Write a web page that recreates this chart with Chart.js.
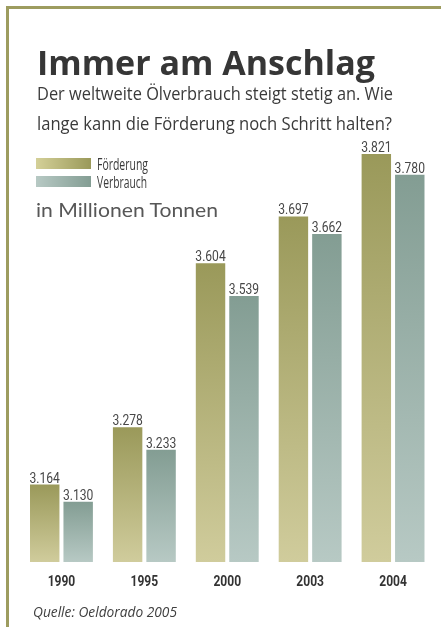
<!DOCTYPE html>
<html>
<head>
<meta charset="utf-8">
<script src="https://cdn.jsdelivr.net/npm/chart.js@4/dist/chart.umd.min.js"></script>
<style>
  html, body { margin: 0; padding: 0; background: #ffffff; }
  #wrap { position: relative; width: 441px; height: 627px; overflow: hidden; background: #fff; }
  #chart { position: absolute; left: 0; top: 0; }
  .frameTop { position: absolute; left: 6px; top: 6px; width: 435px; height: 3px; background: #9d9c5f; }
  .frameLeft { position: absolute; left: 6px; top: 6px; width: 3px; height: 621px; background: #9d9c5f; }
  .t { position: absolute; white-space: nowrap; line-height: 1; transform-origin: 0 0; color: #3b3b3b; }
  #title { left: 37px; top: 38.5px; font: 700 34px "Open Sans", sans-serif; color: #363636; }
  .sub { font: 400 17.5px "Open Sans", sans-serif; color: #3a3a3a; left: 37px; }
  .leg { font: 400 15.5px "Open Sans", sans-serif; color: #3a3a3a; left: 97px; }
  .sw { position: absolute; left: 36px; width: 55px; height: 11px; }
  #unit { left: 36px; top: 198.6px; font: 400 18.5px Lato, sans-serif; color: #575757; }
  #src { left: 33px; top: 600.5px; font: italic 400 15px "Open Sans", sans-serif; color: #3f3f3f; }
</style>
</head>
<body>
<div id="wrap">
  <canvas id="chart" width="441" height="627"></canvas>
  <div class="frameTop"></div>
  <div class="frameLeft"></div>
  <div class="t" id="title" data-w="338">Immer am Anschlag</div>
  <div class="t sub" style="top:81.2px" data-w="356">Der weltweite Ölverbrauch steigt stetig an. Wie</div>
  <div class="t sub" style="top:111.2px" data-w="355">lange kann die Förderung noch Schritt halten?</div>
  <div class="sw" style="top:158px; background: linear-gradient(to right, #d4d098, #9a995a);"></div>
  <div class="sw" style="top:176px; background: linear-gradient(to right, #b7c9c4, #839d93);"></div>
  <div class="t leg" style="top:153.3px" data-w="51">Förderung</div>
  <div class="t leg" style="top:171.3px" data-w="50">Verbrauch</div>
  <div class="t" id="unit" data-w="182">in Millionen Tonnen</div>
  <div class="t" id="src" data-w="144">Quelle: Oeldorado 2005</div>
</div>
<script>
// ---- data ----
const categories = ['1990', '1995', '2000', '2003', '2004'];
const seriesNames = ['Förderung', 'Verbrauch'];
const foerderung = [3164, 3278, 3604, 3697, 3821];
const verbrauch = [3130, 3233, 3539, 3662, 3780];

// ---- styles ----
const barColors = [
  { top: '#9a995a', bottom: '#d0cc9c' },
  { top: '#839d93', bottom: '#b7c9c4' }
];

function fmt(v) {
  return String(v).replace(/\B(?=(\d{3})+(?!\d))/g, '.');
}

// fit text widths horizontally
document.querySelectorAll('[data-w]').forEach(el => {
  const w = el.getBoundingClientRect().width;
  const target = parseFloat(el.dataset.w);
  el.style.transform = 'scaleX(' + (target / w) + ')';
});

function gradientFor(c) {
  const chart = c.chart;
  const col = barColors[c.datasetIndex];
  if (c.type !== 'data' || !chart.chartArea) return col.top;
  const ys = chart.scales.y;
  const top = ys.getPixelForValue(c.raw);
  const base = chart.chartArea.bottom;
  const g = chart.ctx.createLinearGradient(0, top, 0, base);
  g.addColorStop(0, col.top);
  g.addColorStop(1, col.bottom);
  return g;
}

const labelPlugin = {
  id: 'labels',
  afterDatasetsDraw(chart) {
    const ctx = chart.ctx;
    ctx.save();
    ctx.fillStyle = '#474747';
    ctx.font = '400 15.5px Roboto, sans-serif';
    ctx.textAlign = 'center';
    ctx.textBaseline = 'alphabetic';
    chart.data.datasets.forEach((ds, di) => {
      const meta = chart.getDatasetMeta(di);
      meta.data.forEach((el, i) => {
        ctx.save();
        ctx.translate(el.x, el.y - 2);
        ctx.scale(0.78, 1);
        ctx.fillText(fmt(ds.data[i]), 0, 0);
        ctx.restore();
      });
    });
    // category labels from the x scale
    const xs = chart.scales.x;
    ctx.fillStyle = '#333333';
    ctx.font = '700 14px Roboto, sans-serif';
    categories.forEach((cat, i) => {
      ctx.save();
      ctx.translate(xs.getPixelForValue(i), chart.chartArea.bottom + 23.5);
      ctx.scale(0.86, 1);
      ctx.fillText(cat, 0, 0);
      ctx.restore();
    });
    ctx.restore();
  }
};

new Chart(document.getElementById('chart'), {
  type: 'bar',
  data: {
    labels: categories,
    datasets: [
      { label: seriesNames[0], data: foerderung, backgroundColor: gradientFor, borderWidth: 0 },
      { label: seriesNames[1], data: verbrauch, backgroundColor: gradientFor, borderWidth: 0 }
    ]
  },
  options: {
    responsive: false,
    animation: false,
    devicePixelRatio: 1,
    categoryPercentage: 0.807,
    barPercentage: 0.88,
    layout: { padding: { left: 20, right: 6.5, top: 140, bottom: 65 } },
    plugins: { legend: { display: false }, tooltip: { enabled: false } },
    scales: {
      x: { display: false },
      y: { display: false, min: 3010, max: 3849 }
    }
  },
  plugins: [labelPlugin]
});
</script>
</body>
</html>
